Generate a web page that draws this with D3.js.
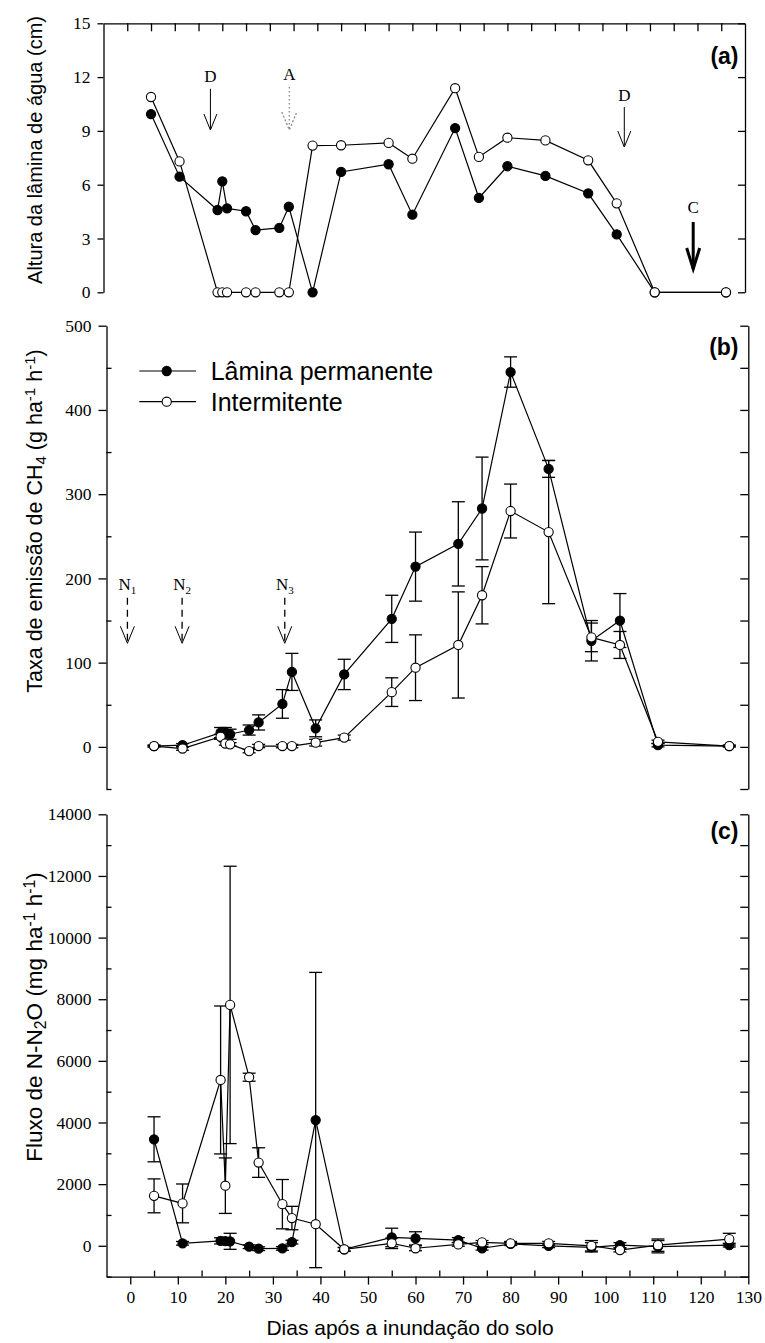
<!DOCTYPE html>
<html><head><meta charset="utf-8">
<script src="https://cdn.jsdelivr.net/npm/d3@7"></script>
<style>
body{margin:0;background:#fff;}
svg{display:block;background:#fff;}
.domain,.tick line{stroke:#000;stroke-width:1.3;}
.sans{font-family:"Liberation Sans",Arial,sans-serif;fill:#000;}
.serif{font-family:"Liberation Serif","Times New Roman",serif;fill:#000;}
</style></head><body>
<svg id="chart" width="765" height="1343"></svg>
<script>
// ---------- data ----------
const days = [5, 11, 19, 20, 21, 25, 27, 32, 34, 39, 45, 55, 60, 69, 74, 80, 88, 97, 103, 111, 126];

// (a) water depth (cm)
const waterPerm = [9.94, 6.45, 4.59, 6.19, 4.68, 4.52, 3.47, 3.59, 4.77, 0, 6.71, 7.14, 4.33, 9.16, 5.26, 7.03, 6.49, 5.52, 3.23, 0, 0];
const waterInt  = [10.89, 7.3, 0, 0, 0, 0, 0, 0, 0, 8.18, 8.2, 8.33, 7.45, 11.38, 7.55, 8.62, 8.47, 7.36, 4.96, 0, 0];

// (b) CH4 emission (g ha-1 h-1)
const ch4Perm    = [1, 2, 17, 17, 15, 20, 29, 51, 89, 22, 86, 152, 214, 241, 283, 445, 330, 126, 150, 2, 1];
const ch4PermErr = [1, 2, 6, 6, 6, 6, 9, 17, 22, 10, 18, 28, 41, 50, 61, 18, 10, 24, 32, 2, 1];
const ch4Int     = [1, -2, 12, 4, 3, -5, 1, 1, 1, 5, 11, 65, 94, 121, 180, 280, 255, 130, 121, 6, 1];
const ch4IntErr  = [1, 2, 3, 2, 2, 2, 2, 2, 2, 4, 3, 17, 39, 63, 34, 32, 85, 17, 16, 2, 1];

// (c) N-N2O flux (mg ha-1 h-1)
const n2oPerm    = [3455, 80, 160, 150, 145, -30, -95, -85, 120, 4080, -115, 270, 240, 185, -80, 60, 0, -50, 20, -30, 20];
const n2oPermErr = [730, 60, 100, 100, 260, 60, 60, 60, 60, 4790, 60, 300, 215, 80, 60, 50, 60, 150, 80, 200, 60];
const n2oInt     = [1620, 1375, 5380, 1950, 7815, 5470, 2700, 1350, 900, 700, -115, 80, -80, 45, 110, 80, 80, 0, -140, 20, 215];
const n2oIntErr  = [550, 630, 2400, 900, 4500, 130, 480, 800, 380, 0, 60, 170, 80, 60, 60, 60, 60, 170, 60, 200, 190];

// tick values
const xMajor = d3.range(0, 131, 10);
const xMinor = d3.range(5, 126, 10);
const yATicks = [0, 3, 6, 9, 12, 15];
const yBMajor = [0, 100, 200, 300, 400, 500];
const yBMinor = [-50, 50, 150, 250, 350, 450];
const yCMajor = [0, 2000, 4000, 6000, 8000, 10000, 12000, 14000];
const yCMinor = [-1000, 1000, 3000, 5000, 7000, 9000, 11000, 13000];

// annotations
const annALabels = ["D", "A", "D", "C"];
const annADays   = [17.5, 34.1, 104.6, 119.1];
const annATail   = [11.35, 11.45, 10.33, 3.92];
const annATip    = [9.05, 9.05, 8.1, 1.3];
const annAKind   = ["solid", "dotted", "solid", "bold"];
const nLabels = ["1", "2", "3"];
const nDays   = [-0.6, 10.9, 32.5];
const nTail = 177, nTip = 123;

const legendLabels = ["Lâmina permanente", "Intermitente"];

// ---------- scales ----------
const svg = d3.select("#chart");
const xA = d3.scaleLinear().domain([-5, 130]).range([103.5, 745]);
const xB = d3.scaleLinear().domain([-5, 130]).range([106.5, 748.3]);
const yA = d3.scaleLinear().domain([0, 15]).range([292.3, 23.3]);
const yB = d3.scaleLinear().domain([-50, 500]).range([789, 325.7]);
const yC = d3.scaleLinear().domain([-1000, 14000]).range([1276.6, 814.3]);

const SERIF = '"Liberation Serif","Times New Roman",serif';
function styleAx(g) {
  g.attr("font-family", null).attr("font-size", null);
  g.selectAll(".tick text").style("font-family", SERIF).style("font-size", "17.5px").attr("fill", "#000");
}
function minorOnly(g) { g.select(".domain").remove(); g.selectAll(".tick text").remove(); }
const fmt = d3.format("d");

// ---------- axes ----------
// panel a
svg.append("g").attr("transform", `translate(0,${yA.range()[1]})`)
  .call(d3.axisTop(xA).tickValues(d3.range(0, 126, 5)).tickSize(-8).tickSizeOuter(0).tickFormat(""));
svg.append("g").attr("transform", `translate(${xA.range()[0]},0)`)
  .call(d3.axisLeft(yA).tickValues(yATicks).tickSize(6).tickSizeOuter(0).tickPadding(7).tickFormat(fmt)).call(styleAx);
svg.append("g").attr("transform", `translate(${xA.range()[1]},0)`)
  .call(d3.axisRight(yA).tickValues(yATicks).tickSize(-7).tickSizeOuter(0).tickFormat(""));

// panel b
svg.append("g").attr("transform", `translate(${xB.range()[0]},0)`)
  .call(d3.axisLeft(yB).tickValues(yBMajor).tickSize(8).tickSizeOuter(0).tickPadding(7).tickFormat(fmt)).call(styleAx);
svg.append("g").attr("transform", `translate(${xB.range()[0]},0)`)
  .call(d3.axisLeft(yB).tickValues(yBMinor).tickSize(-5)).call(minorOnly);
svg.append("g").attr("transform", `translate(${xB.range()[1]},0)`)
  .call(d3.axisRight(yB).tickValues(yBMajor.concat(yBMinor)).tickSize(-8).tickSizeOuter(0).tickFormat(""));

// panel c
svg.append("g").attr("transform", `translate(${xB.range()[0]},0)`)
  .call(d3.axisLeft(yC).tickValues(yCMajor).tickSize(8).tickSizeOuter(0).tickPadding(7).tickFormat(fmt)).call(styleAx);
svg.append("g").attr("transform", `translate(${xB.range()[0]},0)`)
  .call(d3.axisLeft(yC).tickValues(yCMinor).tickSize(-5)).call(minorOnly);
svg.append("g").attr("transform", `translate(${xB.range()[1]},0)`)
  .call(d3.axisRight(yC).tickValues(yCMajor.concat(yCMinor)).tickSize(-8).tickSizeOuter(0).tickFormat(""));
svg.append("g").attr("transform", `translate(0,${yC.range()[0]})`)
  .call(d3.axisBottom(xB).tickValues(xMajor).tickSize(8).tickSizeOuter(0).tickPadding(6).tickFormat(fmt)).call(styleAx);
svg.append("g").attr("transform", `translate(0,${yC.range()[0]})`)
  .call(d3.axisBottom(xB).tickValues(xMinor).tickSize(-6)).call(minorOnly);

// ---------- series ----------
function drawSeries(x, y, vals, errs, filled) {
  const g = svg.append("g");
  const pts = days.map((d, i) => ({ d, v: vals[i], e: errs ? errs[i] : 0 }));
  if (errs) {
    const eb = g.selectAll("g.eb").data(pts.filter(p => p.e > 0)).join("g")
      .attr("stroke", "#000").attr("stroke-width", 1.3);
    eb.append("line").attr("x1", p => x(p.d)).attr("x2", p => x(p.d))
      .attr("y1", p => y(p.v - p.e)).attr("y2", p => y(p.v + p.e));
    eb.append("line").attr("x1", p => x(p.d) - 6.5).attr("x2", p => x(p.d) + 6.5)
      .attr("y1", p => y(p.v + p.e)).attr("y2", p => y(p.v + p.e));
    eb.append("line").attr("x1", p => x(p.d) - 6.5).attr("x2", p => x(p.d) + 6.5)
      .attr("y1", p => y(p.v - p.e)).attr("y2", p => y(p.v - p.e));
  }
  g.append("path").datum(pts)
    .attr("fill", "none").attr("stroke", "#000").attr("stroke-width", 1.2)
    .attr("d", d3.line().x(p => x(p.d)).y(p => y(p.v)));
  g.selectAll("circle").data(pts).join("circle")
    .attr("cx", p => x(p.d)).attr("cy", p => y(p.v)).attr("r", 4.6)
    .attr("fill", filled ? "#000" : "#fff").attr("stroke", "#000").attr("stroke-width", 1.1);
}

drawSeries(xA, yA, waterPerm, null, true);
drawSeries(xA, yA, waterInt, null, false);
drawSeries(xB, yB, ch4Perm, ch4PermErr, true);
drawSeries(xB, yB, ch4Int, ch4IntErr, false);
drawSeries(xB, yC, n2oPerm, n2oPermErr, true);
drawSeries(xB, yC, n2oInt, n2oIntErr, false);

// ---------- arrows ----------
function arrow(x, yTail, yTip, opt) {
  const g = svg.append("g").attr("fill", "none").attr("stroke", opt.color || "#000");
  g.append("line").attr("x1", x).attr("x2", x).attr("y1", yTail).attr("y2", yTip)
    .attr("stroke-width", opt.w).attr("stroke-dasharray", opt.shaftDash || null);
  g.append("polyline")
    .attr("points", `${x - opt.hw},${yTip - opt.hl} ${x},${yTip} ${x + opt.hw},${yTip - opt.hl}`)
    .attr("stroke-width", opt.hw2 || opt.w).attr("stroke-dasharray", opt.headDash || null)
    .attr("stroke-linejoin", "miter");
}
annALabels.forEach((lab, i) => {
  const x = xA(annADays[i]), t = yA(annATail[i]), p = yA(annATip[i]);
  const k = annAKind[i];
  const opt = k === "bold" ? { w: 3, hw: 6.5, hl: 21 } :
              k === "dotted" ? { w: 1.3, hw: 7.5, hl: 18, color: "#888", shaftDash: "1.5,2.5", headDash: "2,2" } :
              { w: 1, hw: 6.5, hl: 16 };
  arrow(x, t, p, opt);
  svg.append("text").attr("class", "serif").attr("x", x).attr("y", t - (k === "bold" ? 9 : 6.5))
    .attr("text-anchor", "middle").attr("font-size", 17).text(lab);
});
nLabels.forEach((lab, i) => {
  const x = xB(nDays[i]), t = yB(nTail), p = yB(nTip);
  arrow(x, t, p, { w: 1.3, hw: 7, hl: 17, shaftDash: "7,5", hw2: 1 });
  const tx = svg.append("text").attr("class", "serif").attr("x", x).attr("y", t - 8)
    .attr("text-anchor", "middle").attr("font-size", 17);
  tx.append("tspan").text("N");
  tx.append("tspan").attr("font-size", 11).attr("dy", 4).text(lab);
});

// ---------- legend ----------
legendLabels.forEach((lab, i) => {
  const ly = 371 + i * 30.7;
  svg.append("line").attr("x1", 139.3).attr("x2", 196).attr("y1", ly).attr("y2", ly)
    .attr("stroke", "#000").attr("stroke-width", 1.2);
  svg.append("circle").attr("cx", 166.7).attr("cy", ly).attr("r", 4.6)
    .attr("fill", i === 0 ? "#000" : "#fff").attr("stroke", "#000").attr("stroke-width", 1.1);
  svg.append("text").attr("class", "sans").attr("x", 210.7).attr("y", ly + 9)
    .attr("font-size", 25).text(lab);
});

// ---------- panel letters ----------
[["(a)", 63.5], ["(b)", 355], ["(c)", 838.5]].forEach(([t, y]) => {
  svg.append("text").attr("class", "sans").attr("x", 738.5).attr("y", y)
    .attr("text-anchor", "end").attr("font-size", 23).attr("font-weight", "bold").text(t);
});

// ---------- axis titles ----------
function yTitle(cx, cy, size, parts) {
  const t = svg.append("text").attr("class", "sans").attr("font-size", size)
    .attr("text-anchor", "middle").attr("transform", `translate(${cx},${cy}) rotate(-90)`);
  parts.forEach(p => {
    const s = t.append("tspan").text(p.t);
    if (p.sub) s.attr("font-size", size * 0.7).attr("baseline-shift", "-25%");
    if (p.sup) s.attr("font-size", size * 0.7).attr("baseline-shift", "45%");
  });
}
yTitle(42, 150, 20, [{ t: "Altura da lâmina de água (cm)" }]);
yTitle(42, 521, 21.5, [{ t: "Taxa de emissão de CH" }, { t: "4", sub: 1 }, { t: " (g ha" }, { t: "-1", sup: 1 }, { t: " h" }, { t: "-1", sup: 1 }, { t: ")" }]);
yTitle(42, 1017, 22.5, [{ t: "Fluxo de N-N" }, { t: "2", sub: 1 }, { t: "O (mg ha" }, { t: "-1", sup: 1 }, { t: " h" }, { t: "-1", sup: 1 }, { t: ")" }]);
svg.append("text").attr("class", "sans").attr("font-size", 21).attr("text-anchor", "middle")
  .attr("x", 410).attr("y", 1335).text("Dias após a inundação do solo");
</script>
</body></html>
